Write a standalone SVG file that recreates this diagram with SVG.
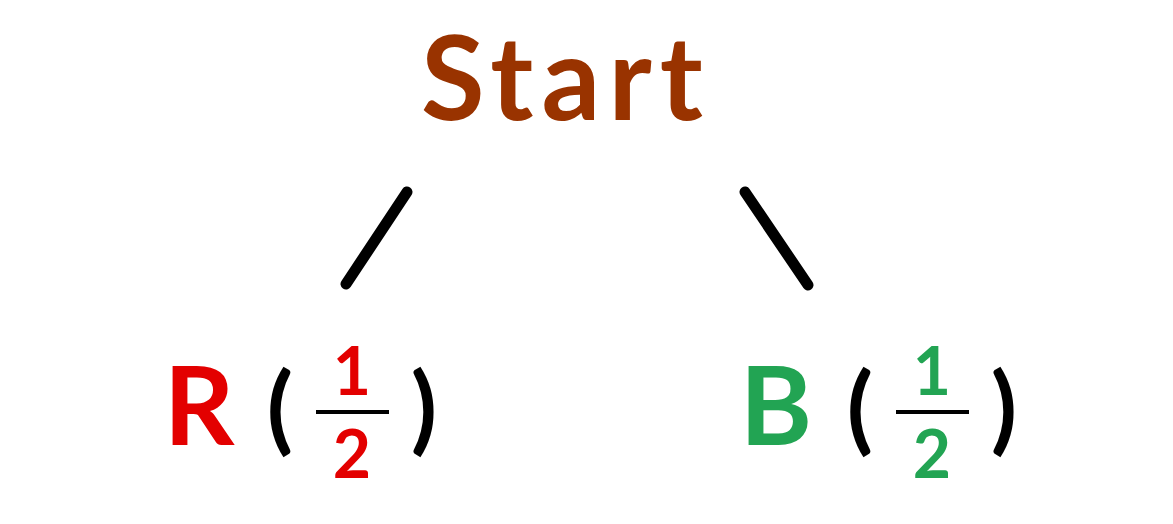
<svg xmlns="http://www.w3.org/2000/svg" width="1173" height="524" viewBox="0 0 1173 524">
<style>
text{font-family:"Lato","Noto Sans",sans-serif;font-weight:bold}
.start{fill:#993300;font-size:116px}
.big{font-size:110px}
.par{font-size:96px;fill:#000}
.dig{font-size:66px;text-anchor:middle}
.red{fill:#e30000}
.grn{fill:#22a453}
.bar{stroke:#000;stroke-width:4}
.conn{stroke:#000;stroke-width:11;stroke-linecap:round}
</style>
<rect width="1173" height="524" fill="#fff"/>
<g id="start"><text class="start" x="562" y="120" text-anchor="middle" textLength="282" lengthAdjust="spacing">Start</text></g>
<g id="connectors">
<line class="conn" x1="407" y1="192" x2="346" y2="284"/>
<line class="conn" x1="745" y1="192" x2="808" y2="285"/>
</g>
<g id="node-r">
<text class="big red" x="199" y="445" text-anchor="middle">R</text>
<text class="par" x="280" y="442" text-anchor="middle">(</text>
<text class="dig red" x="352" y="395">1</text>
<line class="bar" x1="316" y1="412" x2="389" y2="412"/>
<text class="dig red" x="352" y="478">2</text>
<text class="par" x="424" y="442" text-anchor="middle">)</text>
</g>
<g id="node-b">
<text class="big grn" x="776" y="445" text-anchor="middle">B</text>
<text class="par" x="860" y="442" text-anchor="middle">(</text>
<text class="dig grn" x="932" y="395">1</text>
<line class="bar" x1="896" y1="412" x2="969" y2="412"/>
<text class="dig grn" x="932" y="478">2</text>
<text class="par" x="1004" y="442" text-anchor="middle">)</text>
</g>
</svg>
